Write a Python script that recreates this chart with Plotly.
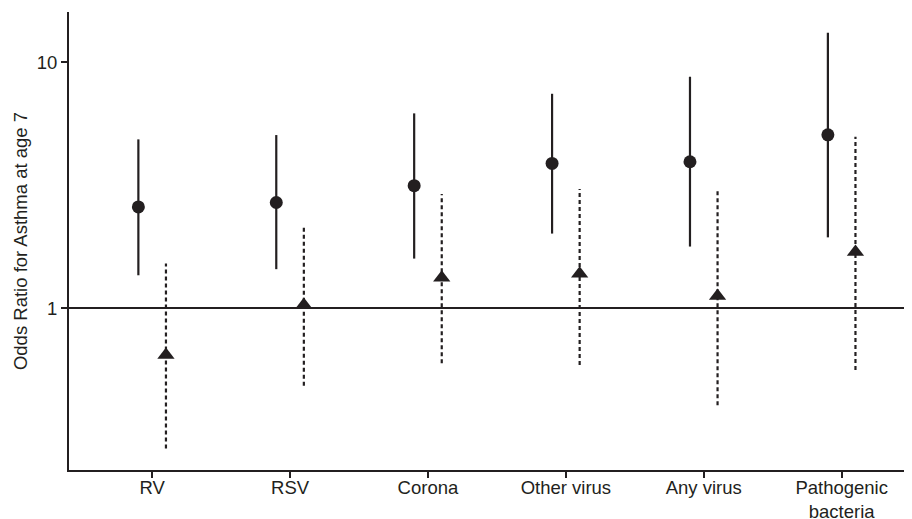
import plotly.graph_objects as go

categories = ["RV", "RSV", "Corona", "Other virus", "Any virus", "Pathogenic<br>bacteria"]

# Series 1 (circles, solid CI)
or_circle = [2.58, 2.69, 3.15, 3.88, 3.94, 5.07]
lo_circle = [1.36, 1.44, 1.59, 2.01, 1.78, 1.94]
hi_circle = [4.86, 5.06, 6.20, 7.45, 8.74, 13.2]

# Series 2 (triangles, dotted CI)
or_tri = [0.644, 1.03, 1.33, 1.38, 1.12, 1.69]
lo_tri = [0.268, 0.483, 0.596, 0.586, 0.402, 0.56]
hi_tri = [1.52, 2.17, 2.91, 3.05, 2.99, 4.98]

COL = "#231f20"
OFF = 0.1
FS = 18.5

def seg(xs, lo, hi):
    X, Y = [], []
    for x, a, b in zip(xs, lo, hi):
        X += [x, x, None]
        Y += [a, b, None]
    return X, Y

xc = [i - OFF for i in range(len(categories))]
xt = [i + OFF for i in range(len(categories))]

fig = go.Figure()
X, Y = seg(xc, lo_circle, hi_circle)
fig.add_trace(go.Scatter(x=X, y=Y, mode="lines", line=dict(color=COL, width=2.2), showlegend=False, hoverinfo="skip"))
X, Y = seg(xt, lo_tri, hi_tri)
fig.add_trace(go.Scatter(x=X, y=Y, mode="lines", line=dict(color=COL, width=2.2, dash="4px,3px"), showlegend=False, hoverinfo="skip"))
fig.add_trace(go.Scatter(x=xc, y=or_circle, mode="markers", marker=dict(symbol="circle", size=13, color=COL), showlegend=False))
fig.add_trace(go.Scatter(x=xt, y=or_tri, mode="markers", marker=dict(symbol="triangle-up", size=15, color=COL), showlegend=False))

fig.add_shape(type="line", xref="paper", yref="y", x0=0, x1=1, y0=1, y1=1, line=dict(color=COL, width=2))

fig.update_layout(
    width=904, height=511,
    margin=dict(l=61, r=0, t=4, b=49),
    plot_bgcolor="white", paper_bgcolor="white",
    font=dict(family="Liberation Sans, Arial, sans-serif", size=FS, color=COL),
)
fig.update_xaxes(
    range=[-0.603, 5.51], tickvals=list(range(len(categories))), ticktext=categories,
    showgrid=False, zeroline=False, showline=True, linecolor=COL, linewidth=2,
    ticks="outside", ticklen=6, tickwidth=2, tickcolor=COL, tickfont=dict(size=FS),
    ticklabelstandoff=-6, automargin=False,
)
fig.update_yaxes(
    type="log", range=[-0.659, 1.205], tickvals=[1, 10], ticktext=["1", "10"],
    showgrid=False, zeroline=False, showline=True, linecolor=COL, linewidth=2,
    ticks="outside", ticklen=6, tickwidth=1.5, tickcolor=COL, tickfont=dict(size=FS),
    title=dict(text="Odds Ratio for Asthma at age 7", font=dict(size=FS), standoff=4),
    automargin=False,
)

fig.write_html("out.html")
